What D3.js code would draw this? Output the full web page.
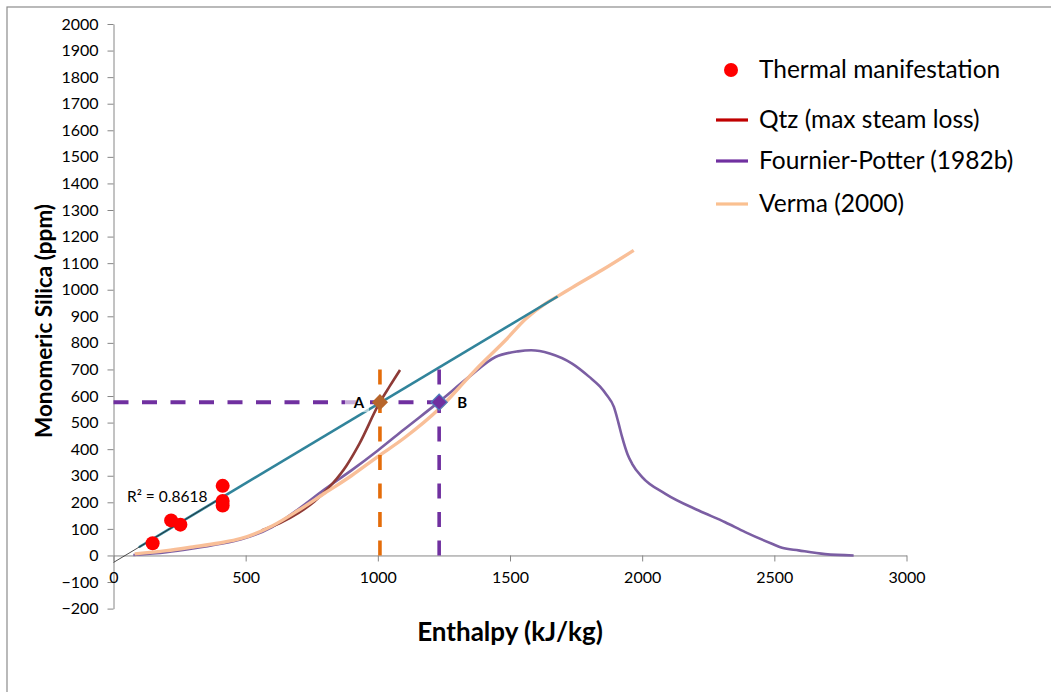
<!DOCTYPE html>
<html>
<head>
<meta charset="utf-8">
<script src="https://cdn.jsdelivr.net/npm/d3@7"></script>
<style>
  body { margin: 0; background: #fff; }
  svg text { font-family: Lato, 'Open Sans', Arial, sans-serif; }
</style>
</head>
<body>
<svg id="chart" width="1051" height="692"></svg>
<script>
// thermal manifestation samples (enthalpy kJ/kg, silica ppm)
const manifEnthalpy = [148, 218, 253, 413, 413, 413];
const manifSilica   = [46, 132, 116, 262, 205, 188];

// Qtz (max steam loss)
const qtzEnthalpy = [560, 630, 700, 760, 830, 880, 930, 1005, 1045, 1084];
const qtzSilica   = [94, 122, 160, 203, 272, 336, 420, 572, 637, 698];

// Fournier-Potter (1982b)
const fpEnthalpy = [75, 200, 300, 400, 480, 600, 700, 800, 900, 1000, 1100, 1230, 1345, 1445, 1530, 1580, 1650, 1735, 1800, 1840, 1865, 1893, 1910, 1924, 1945, 1962, 2000, 2088, 2214, 2314, 2390, 2491, 2529, 2592, 2692, 2800];
const fpSilica   = [2, 12, 26, 43, 60, 107, 175, 250, 320, 395, 475, 577, 672, 747, 768, 772, 760, 722, 672, 636, 605, 559, 500, 446, 380, 345, 295, 232, 169, 125, 88, 44, 29, 19, 5, 0];

// Verma (2000)
const vEnthalpy = [80, 200, 300, 400, 480, 600, 700, 800, 900, 1000, 1100, 1230, 1345, 1383, 1483, 1559, 1634, 1680, 1735, 1850, 1968];
const vSilica   = [6, 18, 32, 47, 63, 111, 170, 235, 300, 372, 442, 550, 672, 712, 810, 890, 948, 975, 1008, 1075, 1148];

// points A and B
const pointA = [1008, 577];
const pointB = [1232, 577];
const dashTop = 710;

const yTicks = d3.range(-200, 2001, 100);
const xTicks = [0, 500, 1000, 1500, 2000, 2500, 3000];

const svg = d3.select("#chart");

svg.append("rect")
   .attr("x", 7).attr("y", 7)
   .attr("width", 1200).attr("height", 800)
   .attr("fill", "none").attr("stroke", "#8c8c8c").attr("stroke-width", 1.2);

const x = d3.scaleLinear().domain([0, 3000]).range([113.5, 906.5]);
const y = d3.scaleLinear().domain([-200, 2000]).range([608.6, 24]);

// axes
svg.append("g")
   .attr("transform", `translate(${x(0)},0)`)
   .call(d3.axisLeft(y).tickValues(yTicks).tickFormat(d3.format("d"))
           .tickSize(6).tickSizeOuter(0).tickPadding(9));
svg.append("g")
   .attr("transform", `translate(0,${y(0)})`)
   .call(d3.axisBottom(x).tickValues(xTicks).tickFormat(d3.format("d"))
           .tickSize(6).tickSizeOuter(0).tickPadding(10));

svg.selectAll(".domain, .tick line").attr("stroke", "#868686");
svg.selectAll(".tick text").attr("font-size", "16px").attr("fill", "#000")
   .style("font-family", "Lato, 'Open Sans', sans-serif");

svg.append("text")
   .attr("x", 510).attr("y", 641)
   .attr("text-anchor", "middle")
   .attr("font-size", "26px").attr("font-weight", "bold")
   .text("Enthalpy (kJ/kg)");
svg.append("text")
   .attr("transform", "translate(52,321) rotate(-90)")
   .attr("text-anchor", "middle")
   .attr("font-size", "22.5px").attr("font-weight", "bold")
   .text("Monomeric Silica (ppm)");

const line = d3.line().x(d => x(d[0])).y(d => y(d[1])).curve(d3.curveMonotoneX);
const zipped = (a, b) => a.map((v, i) => [v, b[i]]);

// linear trend through the manifestations
const mx = d3.mean(manifEnthalpy), my = d3.mean(manifSilica);
const slope = d3.sum(manifEnthalpy, (v, i) => (v - mx) * (manifSilica[i] - my)) /
              d3.sum(manifEnthalpy, v => (v - mx) * (v - mx));
const icpt = my - slope * mx;
const trend = xv => [xv, icpt + slope * xv];

// model curves
svg.append("path").datum(zipped(fpEnthalpy, fpSilica))
   .attr("d", line).attr("fill", "none").attr("stroke", "#7b5ea3").attr("stroke-width", 2.6);
svg.append("path").datum(zipped(qtzEnthalpy, qtzSilica))
   .attr("d", line).attr("fill", "none").attr("stroke", "#8e3a36").attr("stroke-width", 2.6);
svg.append("path").datum(zipped(vEnthalpy, vSilica))
   .attr("d", line).attr("fill", "none").attr("stroke", "#f9bf98").attr("stroke-width", 3.4);

// trend line
svg.append("path").datum([trend(96), trend(1680)])
   .attr("d", d3.line().x(d => x(d[0])).y(d => y(d[1])))
   .attr("fill", "none").attr("stroke", "#31849b").attr("stroke-width", 2.6);
svg.append("path").datum([trend(0), trend(420)])
   .attr("d", d3.line().x(d => x(d[0])).y(d => y(d[1])))
   .attr("fill", "none").attr("stroke", "#222").attr("stroke-width", 0.8);

// dashed guides
const dash = "15,13.5";
svg.append("line")
   .attr("x1", x(0)).attr("x2", x(pointB[0]))
   .attr("y1", y(pointA[1])).attr("y2", y(pointA[1]))
   .attr("stroke", "#7030a0").attr("stroke-width", 4).attr("stroke-dasharray", dash);
svg.append("line")
   .attr("x1", x(pointA[0])).attr("x2", x(pointA[0]))
   .attr("y1", y(0)).attr("y2", y(dashTop))
   .attr("stroke", "#e46c0a").attr("stroke-width", 3.6).attr("stroke-dasharray", dash);
svg.append("line")
   .attr("x1", x(pointB[0])).attr("x2", x(pointB[0]))
   .attr("y1", y(0)).attr("y2", y(dashTop))
   .attr("stroke", "#7030a0").attr("stroke-width", 3.6).attr("stroke-dasharray", dash);

// manifestation points
svg.selectAll("circle.manif").data(zipped(manifEnthalpy, manifSilica))
   .join("circle").attr("class", "manif")
   .attr("cx", d => x(d[0])).attr("cy", d => y(d[1])).attr("r", 7)
   .attr("fill", "#ff0000");

svg.append("text")
   .attr("x", 127).attr("y", 502)
   .attr("font-size", "15.5px")
   .text("R² = 0.8618");

// label A with translucent box
svg.append("rect")
   .attr("x", x(pointA[0]) - 35).attr("y", y(pointA[1]) - 10)
   .attr("width", 24).attr("height", 20)
   .attr("fill", "#fff").attr("opacity", 0.6);

const diamond = d3.symbol().type(d3.symbolSquare).size(130);
svg.append("path").attr("d", diamond)
   .attr("transform", `translate(${x(pointA[0])},${y(pointA[1])}) rotate(45)`)
   .attr("fill", "#b6652b");
svg.append("path").attr("d", diamond)
   .attr("transform", `translate(${x(pointB[0])},${y(pointB[1])}) rotate(45)`)
   .attr("fill", "#7030a0").attr("stroke", "#4f81bd").attr("stroke-width", 1.2);

svg.append("text")
   .attr("x", x(pointA[0]) - 21).attr("y", y(pointA[1]) + 5.5)
   .attr("text-anchor", "middle")
   .attr("font-size", "15px").attr("font-weight", "bold")
   .text("A");
svg.append("text")
   .attr("x", x(pointB[0]) + 23).attr("y", y(pointB[1]) + 5.5)
   .attr("text-anchor", "middle")
   .attr("font-size", "15px").attr("font-weight", "bold")
   .text("B");

// legend
const legendNames = ["Thermal manifestation", "Qtz (max steam loss)", "Fournier-Potter (1982b)", "Verma (2000)"];
const legendColors = ["#ff0000", "#c00000", "#7030a0", "#fac090"];
const legendY = [70, 120, 161, 204];
const legend = svg.append("g");
legendNames.forEach((name, i) => {
  if (i === 0) {
    legend.append("circle").attr("cx", 731).attr("cy", legendY[i]).attr("r", 7).attr("fill", legendColors[i]);
  } else {
    legend.append("line").attr("x1", 716).attr("x2", 748)
          .attr("y1", legendY[i]).attr("y2", legendY[i])
          .attr("stroke", legendColors[i]).attr("stroke-width", 3.2);
  }
  legend.append("text").attr("x", 759).attr("y", legendY[i] + 8)
        .attr("font-size", "24.5px").text(name);
});
</script>
</body>
</html>
